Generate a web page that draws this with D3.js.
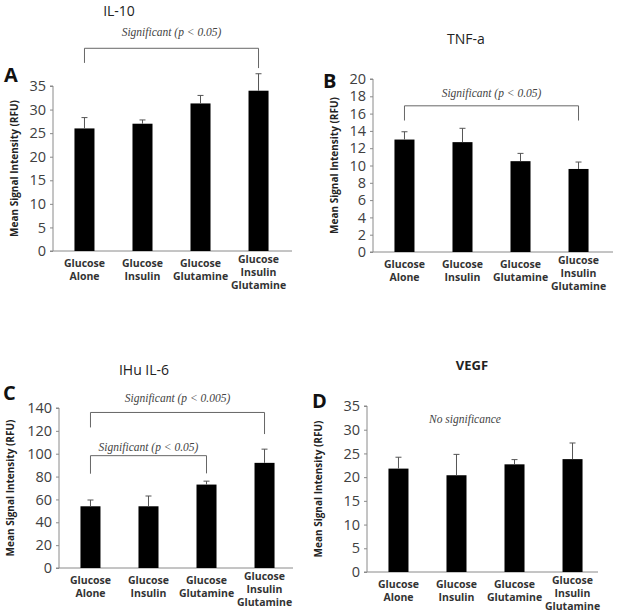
<!DOCTYPE html>
<html>
<head>
<meta charset="utf-8">
<script src="https://cdnjs.cloudflare.com/ajax/libs/d3/7.8.5/d3.min.js"></script>
<style>
  body { margin: 0; background: #fff; }
  svg { display: block; }
</style>
</head>
<body>
<div id="chart"></div>
<script>
// categories shared by all four panels (line breaks as in the figure)
const categories = [
    ["Glucose", "Alone"],
    ["Glucose", "Insulin"],
    ["Glucose", "Glutamine"],
    ["Glucose", "Insulin", "Glutamine"]
];
const catKeys = categories.map(c => c.join(" "));

// A: IL-10
const il10Values = [26, 27, 31.3, 34];
const il10Errors = [2.3, 0.8, 1.7, 3.6];
const il10Ticks = [0, 5, 10, 15, 20, 25, 30, 35];

// B: TNF-a
const tnfValues = [13, 12.7, 10.5, 9.6];
const tnfErrors = [0.9, 1.6, 0.9, 0.8];
const tnfTicks = [0, 2, 4, 6, 8, 10, 12, 14, 16, 18, 20];

// C: IHu IL-6
const il6Values = [54, 54, 73, 92];
const il6Errors = [5.5, 9, 3, 12];
const il6Ticks = [0, 20, 40, 60, 80, 100, 120, 140];

// D: VEGF
const vegfValues = [21.8, 20.4, 22.7, 23.8];
const vegfErrors = [2.4, 4.4, 1.0, 3.4];
const vegfTicks = [0, 5, 10, 15, 20, 25, 30, 35];

const yLabel = "Mean Signal Intensity (RFU)";

const svg = d3.select("#chart")
    .append("svg")
    .attr("width", 620)
    .attr("height", 614);

const axisColor = "#8a8a8a";
const textColor = "#404040";

const panels = [
    {
        letter: "A", title: "IL-10", titleBold: false, titleX: 119, titleY: 16,
        values: il10Values, errors: il10Errors, ticks: il10Ticks,
        x0: 53, x1: 292, yTop: 86, yBottom: 251,
        letterX: 4, letterY: 82, labelX: 14,
        notes: [{ text: "Significant (p < 0.05)", from: 0, to: 3, level: 43, dropL: 39.9, dropR: 38.8, textLevel: 45.6 }]
    },
    {
        letter: "B", title: "TNF-a", titleBold: false, titleX: 466, titleY: 44,
        values: tnfValues, errors: tnfErrors, ticks: tnfTicks,
        x0: 373, x1: 613, yTop: 79, yBottom: 252,
        letterX: 323, letterY: 88, labelX: 334,
        notes: [{ text: "Significant (p < 0.05)", from: 0, to: 3, level: 16.9, dropL: 15.2, dropR: 15.2, textLevel: 17.95 }]
    },
    {
        letter: "C", title: "IHu IL-6", titleBold: false, titleX: 144, titleY: 375,
        values: il6Values, errors: il6Errors, ticks: il6Ticks,
        x0: 59, x1: 293, yTop: 408, yBottom: 568,
        letterX: 3, letterY: 400, labelX: 10,
        notes: [
            { text: "Significant (p < 0.005)", from: 0, to: 3, level: 136.1, dropL: 123, dropR: 117.2, textLevel: 145.5 },
            { text: "Significant (p < 0.05)", from: 0, to: 2, level: 98.3, dropL: 82.5, dropR: 82.8, textLevel: 102.6 }
        ]
    },
    {
        letter: "D", title: "VEGF", titleBold: true, titleX: 472, titleY: 370,
        values: vegfValues, errors: vegfErrors, ticks: vegfTicks,
        x0: 367, x1: 598, yTop: 406, yBottom: 572,
        letterX: 312, letterY: 408, labelX: 318,
        notes: [{ text: "No significance", level: null, textLevel: 31.4, cx: 465 }]
    }
];

panels.forEach(p => {
    const g = svg.append("g");
    const maxTick = d3.max(p.ticks);

    const y = d3.scaleLinear()
        .domain([0, maxTick])
        .range([p.yBottom, p.yTop]);

    // step ~58px with 20px wide bars
    const x = d3.scaleBand()
        .domain(catKeys)
        .range([p.x0, p.x0 + 237])
        .paddingInner(0.655)
        .paddingOuter(0.37);

    const cx = i => x(catKeys[i]) + x.bandwidth() / 2;

    // y axis
    const yAxis = g.append("g")
        .attr("transform", `translate(${p.x0},0)`)
        .call(d3.axisLeft(y).tickValues(p.ticks).tickSize(3).tickPadding(4));
    yAxis.select(".domain").attr("stroke", axisColor).attr("d", `M-3,${p.yTop}H0V${p.yBottom}`);
    yAxis.selectAll(".tick line").attr("stroke", axisColor);
    yAxis.selectAll(".tick text")
        .attr("fill", textColor)
        .style("font-family", "'Open Sans', sans-serif")
        .style("font-size", "14.5px");

    // x axis line
    g.append("line")
        .attr("x1", p.x0 - 3).attr("x2", p.x1)
        .attr("y1", y(0)).attr("y2", y(0))
        .attr("stroke", axisColor);

    // bars
    g.selectAll(".bar")
        .data(p.values)
        .enter().append("rect")
        .attr("x", (d, i) => x(catKeys[i]))
        .attr("y", d => y(d))
        .attr("width", x.bandwidth())
        .attr("height", d => y(0) - y(d))
        .attr("fill", "#000");

    // error bars (upper only)
    p.values.forEach((v, i) => {
        const top = y(v + p.errors[i]);
        g.append("line")
            .attr("x1", cx(i)).attr("x2", cx(i))
            .attr("y1", y(v)).attr("y2", top)
            .attr("stroke", "#555");
        g.append("line")
            .attr("x1", cx(i) - 3).attr("x2", cx(i) + 3)
            .attr("y1", top).attr("y2", top)
            .attr("stroke", "#555");
    });

    // category labels
    categories.forEach((lines, i) => {
        const t = g.append("text")
            .attr("text-anchor", "middle")
            .attr("fill", "#333")
            .style("font-family", "'Open Sans', sans-serif")
            .style("font-weight", "bold")
            .style("font-size", "10.5px");
        const first = y(0) + 16 - (lines.length - 2) * 4;
        lines.forEach((s, k) => {
            t.append("tspan")
                .attr("x", cx(i))
                .attr("y", first + k * 13)
                .text(s);
        });
    });

    // y axis label
    g.append("text")
        .attr("transform", `translate(${p.labelX},${(p.yTop + p.yBottom) / 2}) rotate(-90)`)
        .attr("text-anchor", "middle")
        .attr("dy", "0.35em")
        .attr("fill", "#222")
        .style("font-family", "'Open Sans', sans-serif")
        .style("font-weight", "bold")
        .style("font-size", "10px")
        .text(yLabel);

    // panel letter
    g.append("text")
        .attr("x", p.letterX).attr("y", p.letterY)
        .attr("fill", "#111")
        .style("font-family", "'Open Sans', sans-serif")
        .style("font-weight", "bold")
        .style("font-size", "20px")
        .text(p.letter);

    // title
    g.append("text")
        .attr("x", p.titleX).attr("y", p.titleY)
        .attr("text-anchor", "middle")
        .attr("fill", "#222")
        .style("font-family", "'Open Sans', sans-serif")
        .style("font-weight", p.titleBold ? "bold" : "normal")
        .style("font-size", p.titleBold ? "13px" : "14px")
        .text(p.title);

    // significance brackets
    p.notes.forEach(n => {
        let tx = n.cx;
        if (n.level !== null) {
            const xl = cx(n.from), xr = cx(n.to);
            tx = (xl + xr) / 2;
            g.append("path")
                .attr("d", `M${xl},${y(n.dropL)}V${y(n.level)}H${xr}V${y(n.dropR)}`)
                .attr("fill", "none")
                .attr("stroke", "#666");
        }
        g.append("text")
            .attr("x", tx).attr("y", y(n.textLevel))
            .attr("text-anchor", "middle")
            .attr("fill", "#444")
            .style("font-family", "'Liberation Serif', 'Times New Roman', serif")
            .style("font-style", "italic")
            .style("font-size", "11.5px")
            .text(n.text);
    });
});
</script>
</body>
</html>
